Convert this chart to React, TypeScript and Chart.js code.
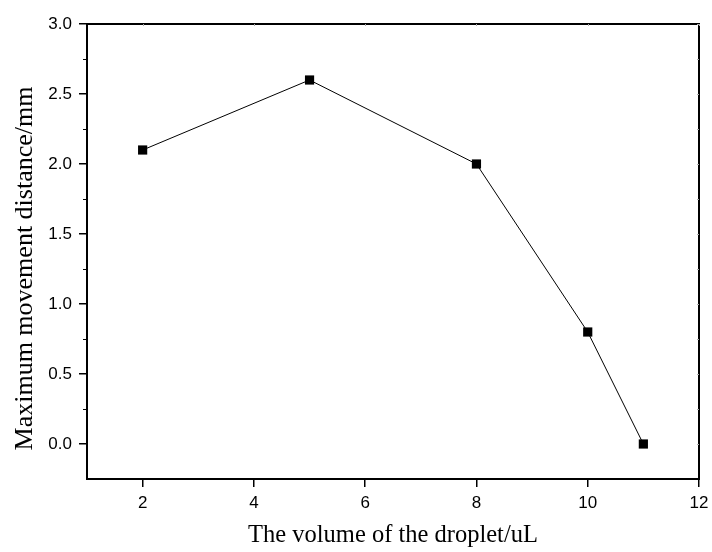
import React, { useEffect, useRef } from "react";
import { Chart, registerables } from "chart.js";

Chart.register(...registerables);

const volumes = [2, 5, 8, 10, 11];
const distances = [2.1, 2.6, 2.0, 0.8, 0.0];
const xTicks = [2, 4, 6, 8, 10, 12];
const yTicks = [0, 0.5, 1.0, 1.5, 2.0, 2.5, 3.0];
const yMinor = [0.25, 0.75, 1.25, 1.75, 2.25, 2.75];
const yTitle = "Maximum movement distance/mm";
const xTitle = "The volume of the droplet/uL";

const framePlugin = {
  id: "frame",
  afterDraw(chart: any) {
    const { ctx, chartArea } = chart;
    const { left, right, top, bottom } = chartArea;
    const xs = chart.scales.x;
    const ys = chart.scales.y;
    ctx.save();
    ctx.strokeStyle = "#000";
    ctx.lineWidth = 2;
    ctx.strokeRect(left, top, right - left, bottom - top);
    ctx.lineWidth = 1;
    for (const v of yMinor) {
      const y = Math.round(ys.getPixelForValue(v)) + 0.5;
      ctx.beginPath();
      ctx.moveTo(left - 4, y);
      ctx.lineTo(left, y);
      ctx.stroke();
    }
    ctx.strokeStyle = "#aaa";
    for (const v of xTicks) {
      const x = Math.round(xs.getPixelForValue(v)) + 0.5;
      ctx.beginPath();
      ctx.moveTo(x, top);
      ctx.lineTo(x, top + 2);
      ctx.stroke();
    }
    for (const v of yTicks.concat(yMinor)) {
      const y = Math.round(ys.getPixelForValue(v)) + 0.5;
      ctx.beginPath();
      ctx.moveTo(right - 2, y);
      ctx.lineTo(right, y);
      ctx.stroke();
    }
    // y axis title
    ctx.fillStyle = "#000";
    ctx.font = "26px 'Liberation Serif', 'Times New Roman', serif";
    ctx.textAlign = "center";
    ctx.textBaseline = "alphabetic";
    ctx.translate(32, (top + bottom) / 2 + 17);
    ctx.rotate(-Math.PI / 2);
    ctx.fillText(yTitle, 0, 0);
    ctx.restore();
  },
};

export default function App() {
  const ref = useRef<HTMLCanvasElement>(null);
  useEffect(() => {
    document.body.style.margin = "0";
    const chart = new Chart(ref.current as HTMLCanvasElement, {
      type: "line",
      data: {
        datasets: [
          {
            data: volumes.map((v, i) => ({ x: v, y: distances[i] })),
            borderColor: "#000",
            borderWidth: 1,
            pointStyle: "rect",
            pointRadius: 6.5,
            pointBackgroundColor: "#000",
            pointBorderColor: "#000",
            pointBorderWidth: 0,
            tension: 0,
          },
        ],
      },
      options: {
        animation: false,
        responsive: false,
        events: [],
        layout: { padding: { top: 24, right: 13, left: 0, bottom: 0 } },
        plugins: { legend: { display: false }, tooltip: { enabled: false } },
        scales: {
          x: {
            type: "linear",
            min: 1,
            max: 12,
            afterBuildTicks: (axis: any) => {
              axis.ticks = xTicks.map((v) => ({ value: v }));
            },
            afterFit: (axis: any) => {
              axis.height = 73;
              axis.paddingLeft = 0;
              axis.paddingRight = 0;
            },
            border: { display: true, color: "#000", width: 2 },
            grid: { drawOnChartArea: false, color: "#000", tickLength: 8, lineWidth: 1.5 },
            ticks: {
              color: "#000",
              padding: 6,
              font: { family: "'Liberation Sans', Arial, sans-serif", size: 17 },
              callback: (v: any) => String(v),
            },
            title: {
              display: true,
              text: xTitle,
              color: "#000",
              font: { family: "'Liberation Serif', 'Times New Roman', serif", size: 24.5 },
              padding: { top: 0, bottom: 2 },
            },
          },
          y: {
            type: "linear",
            min: -0.25,
            max: 3.0,
            afterBuildTicks: (axis: any) => {
              axis.ticks = yTicks.map((v) => ({ value: v }));
            },
            afterFit: (axis: any) => {
              axis.width = 87;
              axis.paddingTop = 0;
              axis.paddingBottom = 0;
            },
            border: { display: true, color: "#000", width: 2 },
            grid: { drawOnChartArea: false, color: "#000", tickLength: 8, lineWidth: 1.5 },
            ticks: {
              color: "#000",
              padding: 7,
              font: { family: "'Liberation Sans', Arial, sans-serif", size: 17 },
              callback: (v: any) => Number(v).toFixed(1),
            },
            title: { display: false },
          },
        },
      },
      plugins: [framePlugin],
    } as any);
    return () => chart.destroy();
  }, []);
  return (
    <div style={{ width: 712, height: 552 }}>
      <canvas ref={ref} width={712} height={552} style={{ display: "block" }} />
    </div>
  );
}
